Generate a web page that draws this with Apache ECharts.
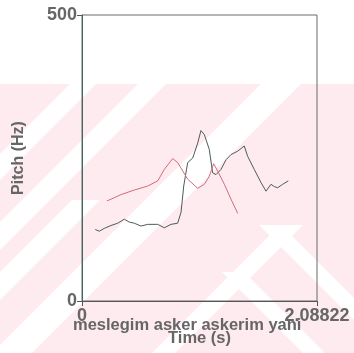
<!DOCTYPE html>
<html>
<head>
<meta charset="utf-8">
<script src="https://cdn.jsdelivr.net/npm/echarts@6/dist/echarts.min.js"></script>
<style>html,body{margin:0;padding:0;background:#fff}#c{width:354px;height:353px}</style>
</head>
<body>
<div id="c"></div>
<script>
// Data
var blackTime = [0.118,0.154,0.198,0.258,0.317,0.376,0.420,0.465,0.524,0.584,0.673,0.731,0.791,0.850,0.880,0.904,0.939,0.984,1.028,1.057,1.087,1.131,1.161,1.191,1.235,1.280,1.324,1.384,1.442,1.472,1.531,1.591,1.635,1.679,1.709,1.739,1.783,1.833];
var blackPitch = [125,122,127,132,136,143,138,136,131,134,134,128,134,136,155,201,242,250,276,298,291,265,224,221,230,247,256,262,271,253,230,207,192,204,200,198,204,210];
var pinkTime = [0.222,0.258,0.347,0.465,0.584,0.673,0.731,0.806,0.850,0.939,1.028,1.087,1.131,1.170,1.206,1.265,1.324,1.384];
var pinkPitch = [175,178,186,194,201,210,230,249,242,213,197,204,218,240,227,204,178,153];
var xMax = 2.08822;
var yMax = 500;
var xTickLabels = ['0', '2.08822'];
var caption = 'meslegim asker askerim yani';

var W = 354, H = 353;
function clip(poly, x0, y0, x1, y1) {
  function cut(pts, inside, inter) {
    var out = [];
    for (var i = 0; i < pts.length; i++) {
      var a = pts[i], b = pts[(i + 1) % pts.length];
      var ia = inside(a), ib = inside(b);
      if (ia) out.push(a);
      if (ia !== ib) out.push(inter(a, b));
    }
    return out;
  }
  function ix(x) { return function (a, b) { var t = (x - a[0]) / (b[0] - a[0]); return [x, a[1] + t * (b[1] - a[1])]; }; }
  function iy(y) { return function (a, b) { var t = (y - a[1]) / (b[1] - a[1]); return [a[0] + t * (b[0] - a[0]), y]; }; }
  var p = poly;
  p = cut(p, function (q) { return q[0] >= x0; }, ix(x0));
  p = cut(p, function (q) { return q[0] <= x1; }, ix(x1));
  p = cut(p, function (q) { return q[1] >= y0; }, iy(y0));
  p = cut(p, function (q) { return q[1] <= y1; }, iy(y1));
  return p;
}
var pinkTop = 84;
var wm = [{ type: 'rect', shape: { x: 0, y: pinkTop, width: W, height: H - pinkTop }, style: { fill: '#fdebef' }, z: -10, silent: true }];
function addPoly(poly, yStart) {
  var p = clip(poly, 0, Math.max(pinkTop, yStart), W, H);
  if (p.length > 2) wm.push({ type: 'polygon', shape: { points: p }, style: { fill: '#ffffff' }, z: -9, silent: true });
}
// "/" bands: x + y in [c1, c2]
[[154, 180, 0], [222, 250, 0], [272, 300, 200], [345, 385, 0], [505, 528, 225]].forEach(function (b) {
  addPoly([[b[0] - 400, 400], [b[0] + 400, -400], [b[1] + 400, -400], [b[1] - 400, 400]], b[2]);
});
// "\" bands: x - y in [d1, d2]
[[34, 56, 225], [-50, -28, 272]].forEach(function (b) {
  addPoly([[-400 + b[0], -400], [400 + b[0], 400], [400 + b[1], 400], [-400 + b[1], -400]], b[2]);
});

var chart = echarts.init(document.getElementById('c'));
var F = 'Liberation Sans', C = '#666666';
chart.setOption({
  animation: false,
  grid: { left: 82, right: 37, top: 15, bottom: 52, show: true, borderColor: '#6a6a6a', borderWidth: 1, backgroundColor: 'transparent' },
  xAxis: {
    type: 'value', min: 0, max: xMax, interval: xMax,
    axisLine: { show: true, lineStyle: { color: '#555', width: 1 } },
    axisTick: { show: true, length: 5, lineStyle: { color: '#555' } },
    splitLine: { show: false },
    axisLabel: { show: true, margin: 6, fontFamily: F, color: C, fontSize: 18, fontWeight: 'bold',
      formatter: function (v) { return v === 0 ? xTickLabels[0] : xTickLabels[1]; } },
    name: 'Time (s)', nameLocation: 'middle', nameGap: 28,
    nameTextStyle: { fontFamily: F, color: C, fontSize: 16.5, fontWeight: 'bold' }
  },
  yAxis: {
    type: 'value', min: 0, max: yMax, interval: yMax,
    axisLine: { show: true, lineStyle: { color: '#3d6b62', width: 1 } },
    axisTick: { show: true, length: 5, lineStyle: { color: '#555' } },
    splitLine: { show: false },
    axisLabel: { show: true, margin: 5, fontFamily: F, color: C, fontSize: 18, fontWeight: 'bold' },
    name: 'Pitch (Hz)', nameLocation: 'middle', nameGap: 55, nameRotate: 90,
    nameTextStyle: { fontFamily: F, color: C, fontSize: 16, fontWeight: 'bold' }
  },
  graphic: wm.concat([
    { type: 'text', x: 73, y: 325, style: { text: caption, fontFamily: F, fill: C, fontSize: 16.5, fontWeight: 'bold', verticalAlign: 'middle' }, z: 10 }
  ]),
  series: [
    { type: 'line', data: blackTime.map(function (t, i) { return [t, blackPitch[i]]; }), showSymbol: false, lineStyle: { color: '#4d5c58', width: 1 } },
    { type: 'line', data: pinkTime.map(function (t, i) { return [t, pinkPitch[i]]; }), showSymbol: false, lineStyle: { color: '#d46a7c', width: 1 } }
  ]
});
</script>
</body>
</html>
